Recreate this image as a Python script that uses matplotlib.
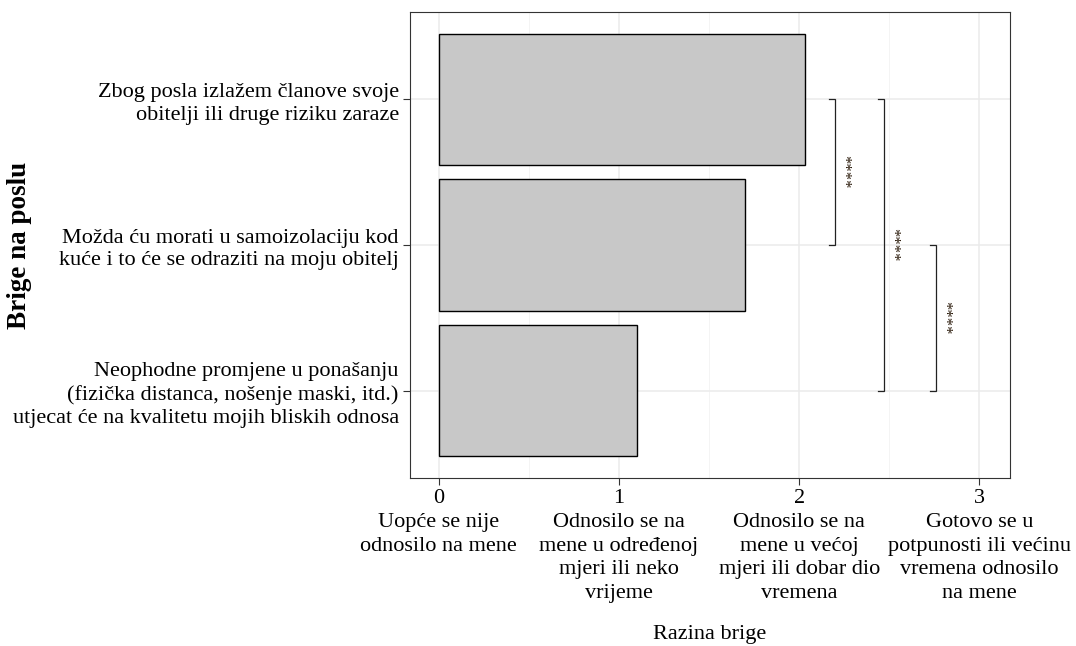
import numpy as np
import matplotlib
matplotlib.use("Agg")
import matplotlib.pyplot as plt

# ----------------------------------------------------------------------
# data
categories = [
    "Neophodne promjene u ponašanju\n(fizička distanca, nošenje maski, itd.)\nutjecat će na kvalitetu mojih bliskih odnosa",
    "Možda ću morati u samoizolaciju kod\nkuće i to će se odraziti na moju obitelj",
    "Zbog posla izlažem članove svoje\nobitelji ili druge riziku zaraze",
]
values = [1.10, 1.70, 2.03]

x_ticks = [0, 1, 2, 3]
x_ticklabels = [
    "0\nUopće se nije\nodnosilo na mene",
    "1\nOdnosilo se na\nmene u određenoj\nmjeri ili neko\nvrijeme",
    "2\nOdnosilo se na\nmene u većoj\nmjeri ili dobar dio\nvremena",
    "3\nGotovo se u\npotpunosti ili većinu\nvremena odnosilo\nna mene",
]

# significance brackets: (from category index, to category index, x position, label)
brackets_from = [2, 2, 1]
brackets_to = [1, 0, 0]
brackets_x = [2.20, 2.47, 2.76]
brackets_lab = ["****", "****", "****"]

# ----------------------------------------------------------------------
plt.rcParams["font.family"] = ["Liberation Serif", "DejaVu Serif"]

fig = plt.figure(figsize=(10.76, 6.46), dpi=100)
ax = fig.add_axes([0.381, 0.26, 0.5577, 0.7214])

ypos = np.arange(1, len(categories) + 1)
ax.barh(ypos, values, height=0.9, color="#C8C8C8", edgecolor="black",
        linewidth=1.0, zorder=3)

# brackets
tick_len = 0.035
for i0, i1, bx, lab in zip(brackets_from, brackets_to, brackets_x, brackets_lab):
    y0, y1 = ypos[i0], ypos[i1]
    ax.plot([bx - tick_len, bx, bx, bx - tick_len], [y0, y0, y1, y1],
            color="#222222", lw=0.9, zorder=4, solid_joinstyle="miter")
    ax.text(bx + 0.045, (y0 + y1) / 2, lab, rotation=-90, ha="center",
            va="center", fontsize=12, color="#2a1a0a", zorder=5)

ax.set_xlim(-0.16, 3.17)
ax.set_ylim(0.4, 3.6)

ax.set_yticks(ypos)
ax.set_yticklabels(categories, fontsize=16, linespacing=1.28)
ax.set_xticks(x_ticks)
ax.set_xticklabels(x_ticklabels, fontsize=16, linespacing=1.34, va="top")
ax.set_xticks([0.5, 1.5, 2.5], minor=True)

ax.tick_params(axis="both", which="major", length=5, width=0.8,
               color="#333333", pad=3)
ax.tick_params(axis="x", which="minor", length=0)

ax.grid(True, which="major", color="#EBEBEB", lw=1.1, zorder=0)
ax.grid(True, which="minor", axis="x", color="#F2F2F2", lw=0.6, zorder=0)
ax.set_axisbelow(True)

for sp in ax.spines.values():
    sp.set_color("#333333")
    sp.set_linewidth(0.8)

ax.set_xlabel("Razina brige", fontsize=16)
ax.xaxis.set_label_coords(0.5, -0.316)
ax.set_ylabel("Brige na poslu", fontsize=19.5, fontweight="bold")
ax.yaxis.set_label_coords(-0.63, 0.5)

fig.savefig("out.png", dpi=100)
